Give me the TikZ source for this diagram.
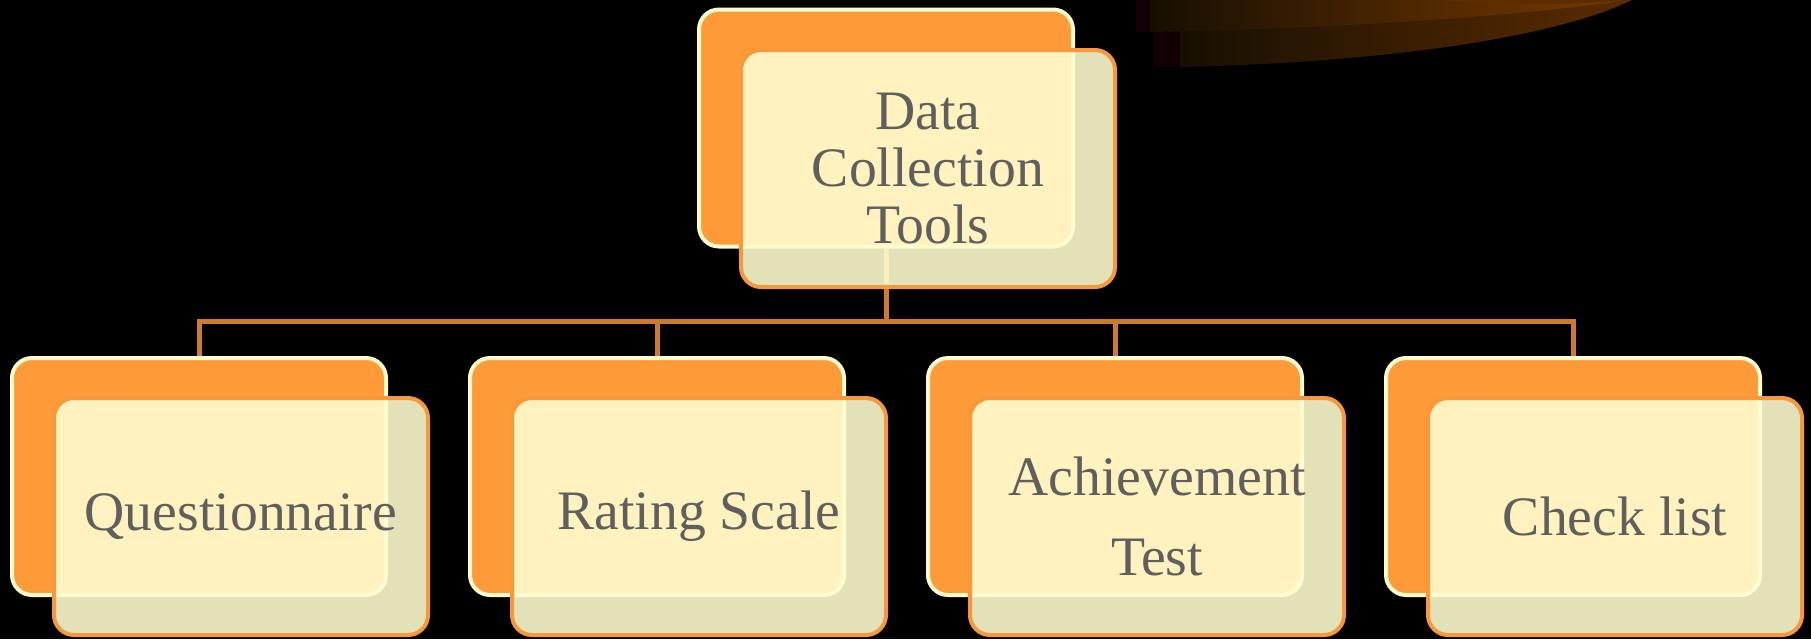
\documentclass[tikz,border=0pt]{standalone}
\usepackage{fontspec}
\setmainfont{Liberation Serif}

\definecolor{cardorange}{HTML}{FF9A38}
\definecolor{cardcream}{HTML}{FFFBCC}
\definecolor{cardface}{HTML}{FFFDCF}
\definecolor{cardedge}{HTML}{F7983A}
\definecolor{linkbrown}{HTML}{CD7B2C}
\definecolor{labelgray}{HTML}{5F5F5F}
\definecolor{swooshdark}{HTML}{170F02}
\definecolor{swooshlight}{HTML}{5A2C00}
\definecolor{swooshglow}{HTML}{783A00}
\definecolor{swooshred}{HTML}{120002}

\begin{document}
\begin{tikzpicture}[x=0.5pt,y=-0.5pt,
  back card/.style={rectangle,rounded corners=10pt,fill=cardorange,draw=cardcream,
    line width=2pt,minimum width=187pt,minimum height=118.5pt,inner sep=0pt},
  front card/.style={rectangle,rounded corners=10pt,fill=cardface,fill opacity=0.89,
    text opacity=1,draw=cardedge,draw opacity=1,line width=2pt,minimum width=187pt,
    minimum height=118.5pt,inner sep=0pt,align=center,text=labelgray,
    font=\fontsize{27.85}{28.5}\selectfont},
  link/.style={draw=linkbrown,line width=2.5pt}]

  \fill[black] (0,0) rectangle (1811,639);

  % swoosh in the upper right corner
  \fill[swooshred] (1153,32) rectangle (1180,67);
  \shade[left color=swooshdark,right color=swooshlight]
    (1180,0) -- (1180,67) .. controls (1400,62) and (1560,35) .. (1632,0) -- cycle;
  \fill[swooshred] (1136,0) rectangle (1150,32);
  \shade[left color=swooshdark,right color=swooshglow]
    (1150,0) -- (1150,32) .. controls (1360,28) and (1540,14) .. (1625,0) -- cycle;
  \shade[left color=swooshglow!80!black,right color=swooshlight]
    (1440,0) .. controls (1500,6) and (1580,5) .. (1625,0) -- cycle;

  \node[back card] (b0) at (886,128) {};
  \node[back card] (b1) at (199,476.5) {};
  \node[back card] (b2) at (657,476.5) {};
  \node[back card] (b3) at (1115,476.5) {};
  \node[back card] (b4) at (1573,476.5) {};

  \coordinate (bus) at (886,321);
  \foreach \i in {1,...,4}
    \draw[link] (b0.south) -- (bus) -| (b\i.north);

  \node[front card] (f0) at (928,168.5) {Data\\Collection\\Tools};
  \node[front card] (f1) at (241,516.5) {Questionnaire};
  \node[front card] (f2) at (699,516.5) {Rating Scale};
  \node[front card] (f3) at (1157,516.5) {Achievement\\[11.5pt]Test};
  \node[front card] (f4) at (1615,516.5) {Check list};

\end{tikzpicture}
\end{document}
